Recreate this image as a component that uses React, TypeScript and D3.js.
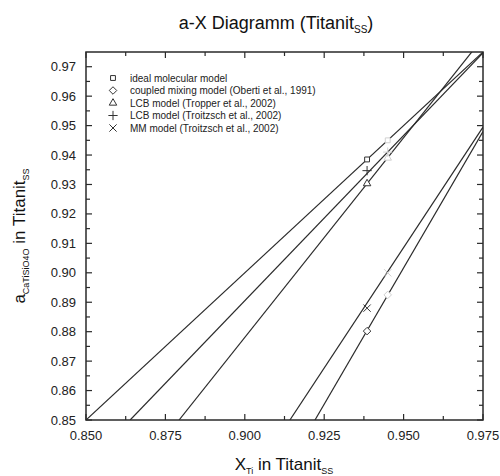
import * as d3 from "d3";

// axis ticks
const xTicks = [0.85, 0.875, 0.9, 0.925, 0.95, 0.975];
const xMinor = [0.8625, 0.8875, 0.9125, 0.9375, 0.9625];
const yTicks = [0.85, 0.86, 0.87, 0.88, 0.89, 0.9, 0.91, 0.92, 0.93, 0.94, 0.95, 0.96, 0.97];
const yMinor = [0.855, 0.865, 0.875, 0.885, 0.895, 0.905, 0.915, 0.925, 0.935, 0.945, 0.955, 0.965];

// model lines [X_Ti, a]
const idealLine = [[0.85, 0.85], [0.975, 0.975]];
const lcbTroitzschLine = [[0.8639, 0.85], [0.975, 0.9747]];
const lcbTropperLine = [[0.8793, 0.85], [0.975, 0.9798]];
const mmLine = [[0.9142, 0.85], [0.975, 0.9495]];
const coupledLine = [[0.9221, 0.85], [0.975, 0.948]];

// measured points
const pointX = 0.9385;
const pointA = { ideal: 0.9385, coupled: 0.8802, lcbTropper: 0.9303, lcbTroitzsch: 0.9347, mm: 0.888 };
const fadedX = 0.945;
const fadedA = { ideal: 0.945, coupled: 0.8925, lcbTropper: 0.939, lcbTroitzsch: 0.941, mm: 0.9 };

const legendLabels = [
  "ideal molecular model",
  "coupled mixing model (Oberti et al., 1991)",
  "LCB model (Tropper et al., 2002)",
  "LCB model (Troitzsch et al., 2002)",
  "MM model (Troitzsch et al., 2002)",
];
const legendKeys = ["ideal", "coupled", "lcbTropper", "lcbTroitzsch", "mm"];

const left = 86, right = 483, top = 52, bottom = 420;
const font = "Liberation Sans, Arial, sans-serif";
const ink = "#2a2a2a";

const symbolFor = {
  ideal: { type: d3.symbolSquare2, size: 30 },
  coupled: { type: d3.symbolDiamond2, size: 36 },
  lcbTropper: { type: d3.symbolTriangle2, size: 40 },
  lcbTroitzsch: { type: d3.symbolPlus, size: 30 },
  mm: { type: d3.symbolTimes, size: 36 },
};

function Marker({ k, x, y, color }: { k: string; x: number; y: number; color: string }) {
  const s = symbolFor[k];
  const d = d3.symbol().type(s.type).size(s.size)() as string;
  return (
    <path d={d} transform={`translate(${x},${y})`} fill="white" stroke={color} strokeWidth={1} />
  );
}

export default function App() {
  const x = d3.scaleLinear().domain([0.85, 0.975]).range([left, right]);
  const y = d3.scaleLinear().domain([0.85, 0.975]).range([bottom, top]);
  const line = d3.line<number[]>().x((d) => x(d[0])).y((d) => y(d[1]));
  const lines = [idealLine, lcbTroitzschLine, lcbTropperLine, mmLine, coupledLine];

  return (
    <svg width={500} height={476} style={{ position: "absolute", left: 0, top: 0, background: "white" }} fontFamily={font}>
      <defs>
        <clipPath id="plot">
          <rect x={left} y={top} width={right - left} height={bottom - top} />
        </clipPath>
      </defs>

      <text x={276} y={29} textAnchor="middle" fontSize={18} fill="#111">
        a-X Diagramm (Titanit<tspan fontSize={10} dy={4}>SS</tspan><tspan dy={-4}>)</tspan>
      </text>

      <g clipPath="url(#plot)">
        {lines.map((l, i) => (
          <path key={i} d={line(l) as string} fill="none" stroke={ink} strokeWidth={1.2} />
        ))}
        {legendKeys.map((k) => (
          <Marker key={"f" + k} k={k} x={x(fadedX)} y={y(fadedA[k])} color="#d0d0d0" />
        ))}
        {legendKeys.map((k) => (
          <Marker key={"p" + k} k={k} x={x(pointX)} y={y(pointA[k])} color="#333" />
        ))}
      </g>

      {/* frame and ticks */}
      <rect x={left} y={top} width={right - left} height={bottom - top} fill="none" stroke={ink} strokeWidth={1.5} />
      {xTicks.map((t) => (
        <g key={"x" + t} stroke={ink} strokeWidth={1.2}>
          <line x1={x(t)} x2={x(t)} y1={bottom} y2={bottom - 6} />
          <line x1={x(t)} x2={x(t)} y1={top} y2={top + 6} />
        </g>
      ))}
      {xMinor.map((t) => (
        <g key={"xm" + t} stroke={ink} strokeWidth={1.2}>
          <line x1={x(t)} x2={x(t)} y1={bottom} y2={bottom - 4} />
          <line x1={x(t)} x2={x(t)} y1={top} y2={top + 4} />
        </g>
      ))}
      {yTicks.map((t) => (
        <g key={"y" + t} stroke={ink} strokeWidth={1.2}>
          <line x1={left} x2={left + 6} y1={y(t)} y2={y(t)} />
          <line x1={right} x2={right - 6} y1={y(t)} y2={y(t)} />
        </g>
      ))}
      {yMinor.map((t) => (
        <g key={"ym" + t} stroke={ink} strokeWidth={1.2}>
          <line x1={left} x2={left + 4} y1={y(t)} y2={y(t)} />
          <line x1={right} x2={right - 4} y1={y(t)} y2={y(t)} />
        </g>
      ))}

      {xTicks.map((t) => (
        <text key={"xl" + t} x={x(t)} y={440} textAnchor="middle" fontSize={13} fill="#222">
          {d3.format(".3f")(t)}
        </text>
      ))}
      {yTicks.map((t) => (
        <text key={"yl" + t} x={76} y={y(t) + 4.5} textAnchor="end" fontSize={13} fill="#222">
          {d3.format(".2f")(t)}
        </text>
      ))}

      <text x={284} y={470} textAnchor="middle" fontSize={17} fill="#111">
        X<tspan fontSize={9} dy={4}>Ti</tspan>
        <tspan dy={-4}> in Titanit</tspan>
        <tspan fontSize={9} dy={4}>SS</tspan>
      </text>
      <text transform={`translate(25,236) rotate(-90)`} textAnchor="middle" fontSize={17} fill="#111">
        a<tspan fontSize={9} dy={4}>CaTiSiO4O</tspan>
        <tspan dy={-4}> in Titanit</tspan>
        <tspan fontSize={9} dy={4}>SS</tspan>
      </text>

      {/* legend */}
      {legendKeys.map((k, i) => (
        <g key={"lg" + k}>
          <Marker k={k} x={113} y={78 + i * 12.5} color="#333" />
          <text x={130} y={81.5 + i * 12.5} fontSize={10} fill="#222">
            {legendLabels[i]}
          </text>
        </g>
      ))}
    </svg>
  );
}
